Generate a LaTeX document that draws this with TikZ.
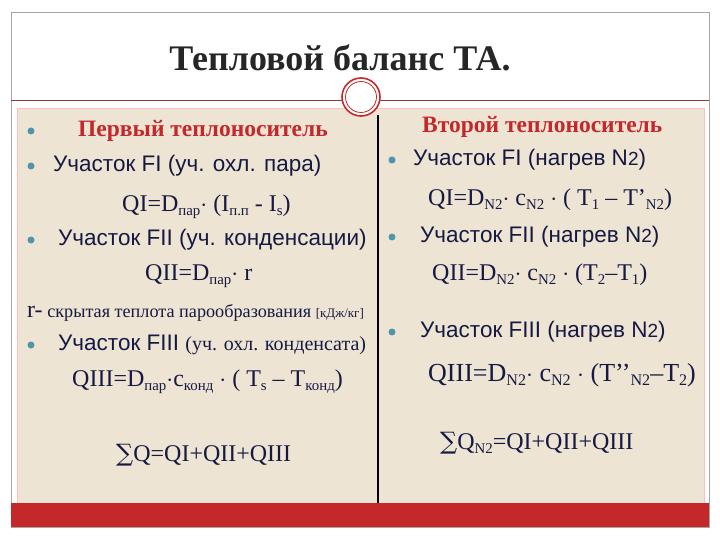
\documentclass[tikz,border=0pt]{standalone}
\usepackage{fontspec}
\usepackage{graphicx}
\setmainfont{Liberation Serif}
\setsansfont{Liberation Sans}
\newfontfamily\dv{DejaVu Serif}
\definecolor{beige}{RGB}{237,228,212}
\definecolor{hred}{RGB}{196,40,42}
\definecolor{navy}{RGB}{22,26,66}
\definecolor{bull}{RGB}{80,150,170}
\definecolor{lineb}{RGB}{150,60,50}
\newcommand{\sbx}[1]{\raisebox{-0.35ex}{\scalebox{0.62}{#1}}}
\tikzset{
  txt/.style={anchor=west,inner sep=0pt,text=navy,font=\sffamily\fontsize{22.5}{24}\selectfont},
  frm/.style={anchor=west,inner sep=0pt,text=navy,font=\fontsize{24}{26}\selectfont},
  hdr/.style={anchor=west,inner sep=0pt,text=hred,font=\fontsize{23.5}{26}\selectfont\bfseries},
  bul/.style={circle,fill=bull,inner sep=0pt,minimum size=7pt}
}
\begin{document}
\begin{tikzpicture}[x=1pt,y=-1pt]
\useasboundingbox (0,0) rectangle (720,540);
\fill[white] (0,0) rectangle (720,540);
\draw[gray!70] (11,12) rectangle (709,527);
\fill[beige] (17,108) rectangle (704,503);
\draw[red!25] (17,108) rectangle (704,503);
\fill[hred] (11,503) rectangle (709,527);
\draw[lineb,line width=1pt] (11,101) -- (709,101);
\draw[black,line width=1.5pt] (378,115) -- (378,503);
\node[circle,draw=hred,fill=white,line width=1.6pt,minimum size=38pt] (c) at (361,97) {};
\node[circle,draw=hred,line width=0.8pt,minimum size=31pt] (c2) at (361,97) {};
\node[inner sep=0pt,font=\fontsize{36}{38}\selectfont\bfseries,text=black!85] (title) at (340,58) {Тепловой баланс ТА.};
% left
\node[bul] (b0) at (31,131) {};
\node[hdr] (h1) at (78,131) {Первый теплоноситель};
\node[bul] (b1) at (31,166) {};
\node[txt] (l1) at (53,166) {Участок FI (уч. охл. пара)};
\node[frm] (f1) at (122,207) {QI=D\sbx{пар}$\cdot$ (I\sbx{п.п} - I\sbx{s})};
\node[bul] (b2) at (31,240) {};
\node[txt] (l2) at (58,240) {Участок FII (уч. конденсации)};
\node[frm] (f2) at (145,276) {QII=D\sbx{пар}$\cdot$ r};
\node[anchor=west,inner sep=0pt,text=navy,font=\fontsize{18.2}{18}\selectfont] (r) at (27,313) {{\fontsize{24}{24}\selectfont r-} скрытая теплота парообразования {\fontsize{13}{14}\selectfont [кДж/кг]}};
\node[bul] (b3) at (31,345) {};
\node[txt] (l3) at (58,345) {Участок FIII {\rmfamily\fontsize{20}{22}\selectfont (уч. охл. конденсата)}};
\node[frm] (f3) at (72,382) {QIII=D\sbx{пар}$\cdot$c\sbx{конд} $\cdot$ ( T\sbx{s} – T\sbx{конд})};
\node[frm] (s1) at (116,455) {{\dv ∑}Q=QI+QII+QIII};
% right
\node[hdr] (h2) at (422,127) {Второй теплоноситель};
\node[bul] (b4) at (392,160) {};
\node[txt] (r1) at (413,160) {Участок FI (нагрев N{\fontsize{19}{20}\selectfont 2})};
\node[frm] (g1) at (428,200) {QI=D\sbx{N2}$\cdot$ c\sbx{N2} $\cdot$ ( T\sbx{1} – T’\sbx{N2})};
\node[bul] (b5) at (392,237) {};
\node[txt] (r2) at (420,237) {Участок FII (нагрев N{\fontsize{19}{20}\selectfont 2})};
\node[frm] (g2) at (432,275) {QII=D\sbx{N2}$\cdot$ c\sbx{N2} $\cdot$ (T\sbx{2}–T\sbx{1})};
\node[bul] (b6) at (392,332) {};
\node[txt] (r3) at (420,332) {Участок FIII (нагрев N{\fontsize{19}{20}\selectfont 2})};
\node[frm,font=\fontsize{26}{28}\selectfont] (g3) at (428,375) {QIII=D\sbx{N2}$\cdot$ c\sbx{N2} $\cdot$ (T’’\sbx{N2}–T\sbx{2})};
\node[frm] (s2) at (440,443) {{\dv ∑}Q\sbx{N2}=QI+QII+QIII};
\end{tikzpicture}
\end{document}
